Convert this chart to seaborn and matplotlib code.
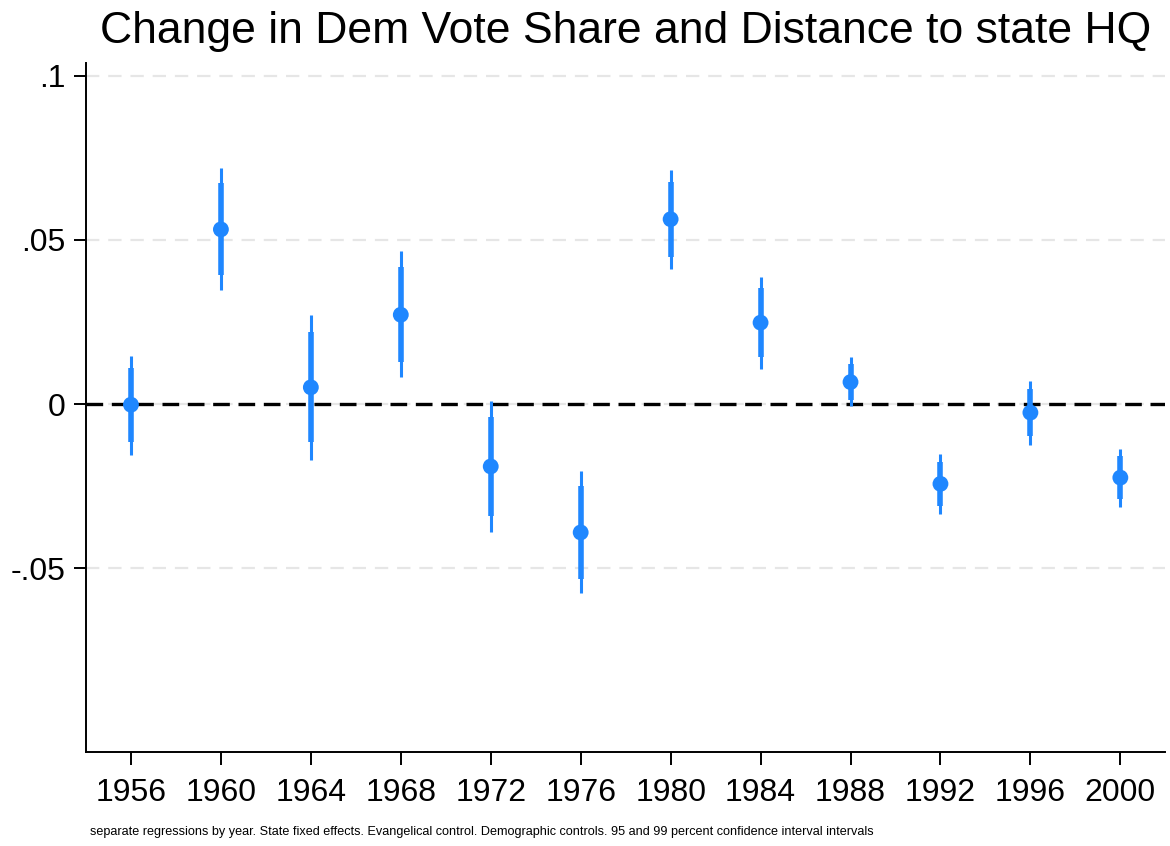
import matplotlib
matplotlib.use("Agg")
import matplotlib.pyplot as plt
import seaborn as sns
import pandas as pd

# Election years and coefficient estimates with 95% / 99% confidence bounds
years = [1956, 1960, 1964, 1968, 1972, 1976, 1980, 1984, 1988, 1992, 1996, 2000]
coef = [-0.0002, 0.0532, 0.0051, 0.0272, -0.0190, -0.0391, 0.0563, 0.0248, 0.0067, -0.0243, -0.0026, -0.0224]
ci95_lo = [-0.0116, 0.0394, -0.0116, 0.0127, -0.0342, -0.0534, 0.0449, 0.0142, 0.0013, -0.0310, -0.0097, -0.0290]
ci95_hi = [0.0110, 0.0672, 0.0218, 0.0417, -0.0040, -0.0251, 0.0677, 0.0355, 0.0123, -0.0175, 0.0046, -0.0158]
ci99_lo = [-0.0154, 0.0348, -0.0170, 0.0081, -0.0391, -0.0576, 0.0412, 0.0108, -0.0007, -0.0334, -0.0124, -0.0314]
ci99_hi = [0.0147, 0.0718, 0.0272, 0.0465, 0.0010, -0.0205, 0.0713, 0.0388, 0.0142, -0.0151, 0.0071, -0.0136]

y_ticks = [-0.05, 0, 0.05, 0.1]
y_tick_labels = ["-.05", "0", ".05", ".1"]

df = pd.DataFrame({
    "year": years, "coef": coef,
    "lo95": ci95_lo, "hi95": ci95_hi,
    "lo99": ci99_lo, "hi99": ci99_hi,
})

sns.set_theme(style="white")
plt.rcParams["font.family"] = ["Liberation Sans", "DejaVu Sans"]
plt.rcParams["text.color"] = "black"
plt.rcParams["xtick.color"] = "black"
plt.rcParams["ytick.color"] = "black"
plt.rcParams["axes.labelcolor"] = "black"

blue = "#1f87ff"

fig = plt.figure(figsize=(11.70, 8.46), dpi=100)
ax = fig.add_axes([0.0735, 0.111, 0.9225, 0.815])

# light reference gridlines
for yv in y_ticks:
    ax.axhline(yv, color="#e6e6e6", lw=1.6, dashes=(6, 4), zorder=0)
ax.axhline(0, color="black", lw=2.4, dashes=(5, 2.6), zorder=1)

ax.vlines(df["year"], df["lo99"], df["hi99"], color=blue, lw=2.2, zorder=2)
ax.vlines(df["year"], df["lo95"], df["hi95"], color=blue, lw=4.0, zorder=3)
sns.scatterplot(data=df, x="year", y="coef", ax=ax, color=blue, s=130,
                edgecolor="none", zorder=4, legend=False)

ax.set_xlim(1954, 2002)
ax.set_ylim(-0.106, 0.104)
ax.set_xticks(years)
ax.set_xticklabels([str(y) for y in years])
ax.set_yticks(y_ticks)
ax.set_yticklabels(y_tick_labels)
ax.set_xlabel("")
ax.set_ylabel("")

for side in ["top", "right"]:
    ax.spines[side].set_visible(False)
for side in ["left", "bottom"]:
    ax.spines[side].set_color("black")
    ax.spines[side].set_linewidth(1.4)

ax.tick_params(axis="both", which="major", direction="out", length=9, width=1.4,
               color="black", labelcolor="black", labelsize=23, left=True, bottom=True)
ax.tick_params(axis="x", pad=10)
ax.tick_params(axis="y", pad=6)

fig.text(0.535, 0.949, "Change in Dem Vote Share and Distance to state HQ",
         ha="center", va="baseline", fontsize=32, color="black")
fig.text(0.077, 0.017,
         "separate regressions by year. State fixed effects. Evangelical control. "
         "Demographic controls. 95 and 99 percent confidence interval intervals",
         ha="left", va="center", fontsize=9.1, color="black")

fig.savefig("out.png", dpi=100)
